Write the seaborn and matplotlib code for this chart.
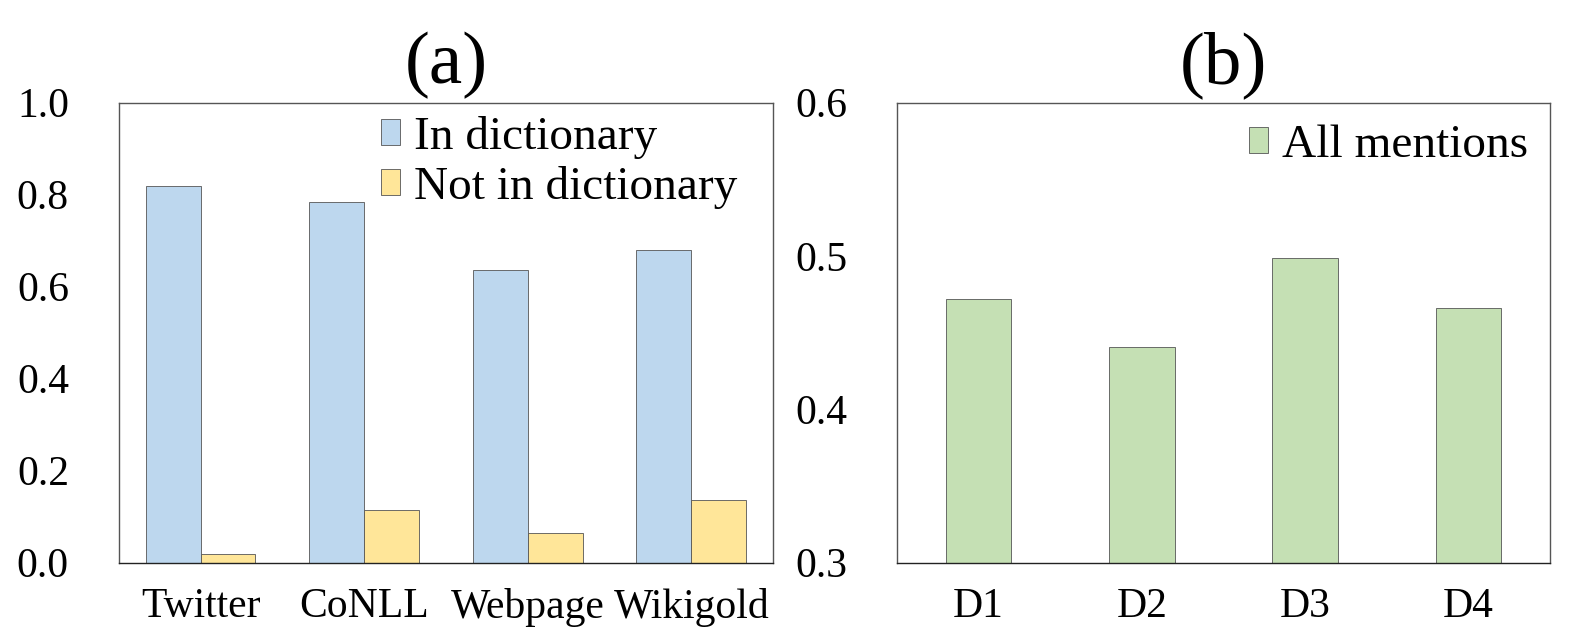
import matplotlib
matplotlib.use('Agg')
import matplotlib.pyplot as plt
import seaborn as sns
import pandas as pd

datasets = ['Twitter', 'CoNLL', 'Webpage', 'Wikigold']
in_dict = [0.818, 0.785, 0.637, 0.680]
not_in_dict = [0.018, 0.115, 0.064, 0.137]

domains = ['D1', 'D2', 'D3', 'D4']
all_mentions = [0.472, 0.4405, 0.499, 0.466]

blue = '#BDD7EE'
yellow = '#FFE699'
green = '#C5E0B4'

sns.set_theme(style='white')
plt.rcParams['font.family'] = ['Liberation Serif', 'DejaVu Serif']
plt.rcParams['text.color'] = 'black'
plt.rcParams['xtick.color'] = 'black'
plt.rcParams['ytick.color'] = 'black'

left = pd.DataFrame({
    'dataset': datasets * 2,
    'value': in_dict + not_in_dict,
    'group': ['In dictionary'] * 4 + ['Not in dictionary'] * 4,
})
right = pd.DataFrame({'domain': domains, 'value': all_mentions})

fig = plt.figure(figsize=(15.88, 6.44), dpi=100)
ax1 = fig.add_axes([0.0749, 0.1263, 0.4119, 0.7142])
ax2 = fig.add_axes([0.5649, 0.1263, 0.4111, 0.7142])

sns.barplot(data=left, x='dataset', y='value', hue='group', ax=ax1,
            palette=[blue, yellow], width=0.67, edgecolor='#555555', linewidth=0.6,
            saturation=1)
sns.barplot(data=right, x='domain', y='value', ax=ax2, color=green,
            width=0.4, edgecolor='#555555', linewidth=0.6, saturation=1,
            label='All mentions')

ax1.set_ylim(0, 1.0)
ax1.set_yticks([0.0, 0.2, 0.4, 0.6, 0.8, 1.0])
ax1.set_yticklabels(['0.0', '0.2', '0.4', '0.6', '0.8', '1.0'])
ax2.set_ylim(0.3, 0.6)
ax2.set_yticks([0.3, 0.4, 0.5, 0.6])
ax2.set_yticklabels(['0.3', '0.4', '0.5', '0.6'])

anchors = {'(a)': (0.953, 0.982), '(b)': (0.974, 0.963)}
for ax, t in [(ax1, '(a)'), (ax2, '(b)')]:
    ax.set_xlim(-0.5, 3.5)
    ax.set_xlabel('')
    ax.set_ylabel('')
    ax.tick_params(axis='both', length=0, labelsize=30, colors='black')
    ax.tick_params(axis='y', pad=36)
    ax.tick_params(axis='x', pad=18)
    for s in ax.spines.values():
        s.set_color('#555555')
        s.set_linewidth(1.0)
    ax.spines['bottom'].set_color('#222222')
    ax.set_title(t, fontsize=54, pad=14, color='black')
    ax.legend(loc='upper right', bbox_to_anchor=anchors[t], frameon=False,
              fontsize=34, handlelength=0.4, handleheight=0.45,
              handletextpad=0.3, labelspacing=0.15, borderaxespad=0.0,
              borderpad=0.1)

fig.savefig('out.png', dpi=100)
